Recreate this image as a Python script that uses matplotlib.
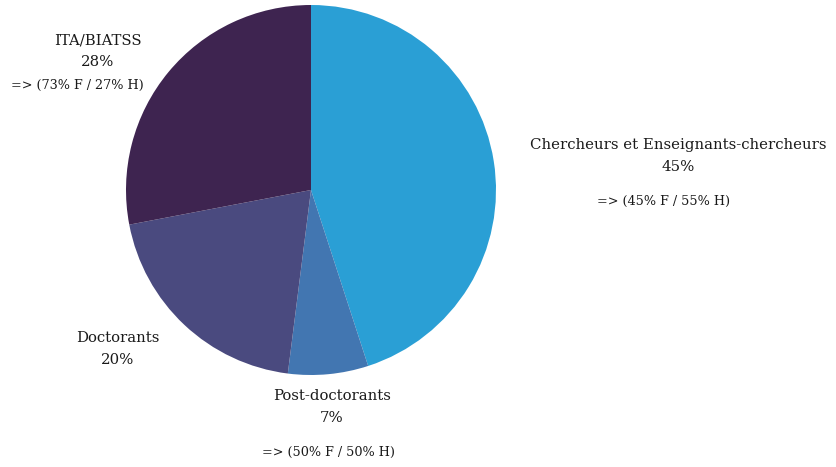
import matplotlib
matplotlib.use("Agg")
import matplotlib.pyplot as plt

labels = ["Chercheurs et Enseignants-chercheurs", "Post-doctorants", "Doctorants", "ITA/BIATSS"]
shares = [45, 7, 20, 28]
gender = ["=> (45% F / 55% H)", "=> (50% F / 50% H)", None, "=> (73% F / 27% H)"]
colors = ["#2a9fd5", "#4276b1", "#4a4a7f", "#3e2450"]

W, H = 836, 467
fig = plt.figure(figsize=(W / 100, H / 100), dpi=100)
cx, cy, r = 311, 190, 185
ax = fig.add_axes([(cx - r) / W, (H - cy - r) / H, 2 * r / W, 2 * r / H])
ax.pie(shares, colors=colors, startangle=90, counterclock=False,
       wedgeprops=dict(linewidth=0))
ax.set_xlim(-1, 1)
ax.set_ylim(-1, 1)
ax.set_aspect("equal")
ax.axis("off")

# label positions in pixels (name line center, gender line center)
pos = [((678, 145), (664, 201)),
       ((332, 396), (329, 452)),
       ((118, 338), None),
       ((98, 40), (77, 85))]

def px(x, y):
    return (x - cx) / r, (cy - y) / r

font = dict(family="DejaVu Serif", color="#1a1a1a", ha="center", va="center",
            clip_on=False)
for lab, s, g, (p1, p2) in zip(labels, shares, gender, pos):
    ax.text(*px(*p1), lab, fontsize=10.7, **font)
    ax.text(*px(p1[0], p1[1] + 22), f"{s}%", fontsize=10.7, **font)
    if g:
        ax.text(*px(*p2), g, fontsize=9.2, **font)

fig.savefig("out.png", dpi=100)
